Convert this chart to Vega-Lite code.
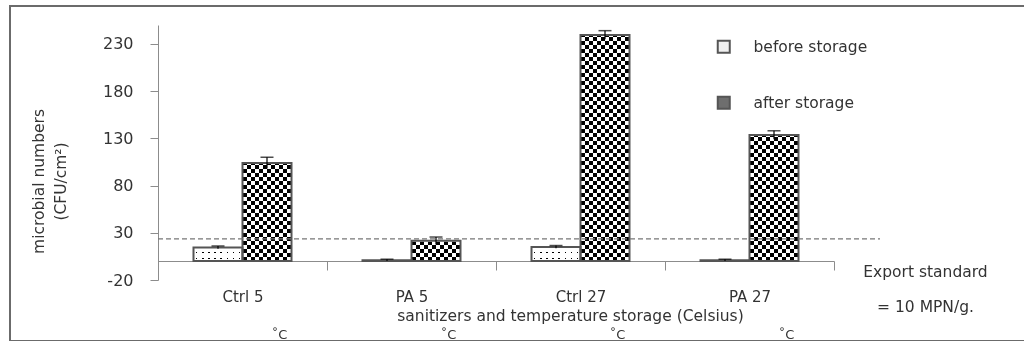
{
  "$schema": "https://vega.github.io/schema/vega-lite/v6.json",
  "width": 1020,
  "height": 335,
  "autosize": {"type": "none"},
  "padding": {"left": 10, "top": 6, "right": 0, "bottom": 0},
  "background": "white",
  "config": {
    "font": "DejaVu Sans",
    "view": {"stroke": "#6b6b6b", "strokeWidth": 2},
    "axis": {"grid": false}
  },
  "data": {
    "values": [
      {"cat": "Ctrl 5", "storage": "before", "value": 14.5, "lo": 13, "hi": 16},
      {"cat": "Ctrl 5", "storage": "after", "value": 104, "lo": 98, "hi": 110},
      {"cat": "PA 5", "storage": "before", "value": 1, "lo": 0, "hi": 2},
      {"cat": "PA 5", "storage": "after", "value": 21.5, "lo": 17.5, "hi": 25.5},
      {"cat": "Ctrl 27", "storage": "before", "value": 15, "lo": 13.5, "hi": 16.5},
      {"cat": "Ctrl 27", "storage": "after", "value": 239.5, "lo": 235, "hi": 244},
      {"cat": "PA 27", "storage": "before", "value": 1, "lo": 0, "hi": 2},
      {"cat": "PA 27", "storage": "after", "value": 133.5, "lo": 129, "hi": 138}
    ]
  },
  "resolve": {"scale": {"x": "independent"}},
  "layer": [
    {
      "encoding": {
        "x": {
          "field": "cat",
          "type": "nominal",
          "sort": ["Ctrl 5", "PA 5", "Ctrl 27", "PA 27"],
          "scale": {"domain": ["Ctrl 5", "PA 5", "Ctrl 27", "PA 27"], "range": [148, 824], "paddingInner": 0, "paddingOuter": 0},
          "axis": {
            "title": "sanitizers and temperature storage (Celsius)",
            "offset": -80,
            "tickBand": "extent",
            "tickSize": 9,
            "domainColor": "#8c8c8c",
            "tickColor": "#8c8c8c",
            "labelAngle": 0,
            "labelPadding": 19,
            "labelFontSize": 15,
            "labelColor": "#333",
            "titleFontSize": 15.5,
            "titleFontWeight": "normal",
            "titleColor": "#333",
            "titleX": 560,
            "titleY": 54,
            "titleBaseline": "middle",
            "titleAlign": "center"
          }
        }
      },
      "layer": [
        {
          "transform": [{"filter": "datum.storage == 'after'"}],
          "mark": {"type": "bar", "fill": {"gradient": "linear", "x1": 0, "y1": 0, "x2": 0, "y2": 1, "stops": [
            {"offset": 0, "color": "#000"},
            {"offset": 0.01695, "color": "#000"}, {"offset": 0.01695, "color": "#fff"},
            {"offset": 0.0339, "color": "#fff"}, {"offset": 0.0339, "color": "#000"},
            {"offset": 0.05085, "color": "#000"}, {"offset": 0.05085, "color": "#fff"},
            {"offset": 0.0678, "color": "#fff"}, {"offset": 0.0678, "color": "#000"},
            {"offset": 0.08475, "color": "#000"}, {"offset": 0.08475, "color": "#fff"},
            {"offset": 0.10169, "color": "#fff"}, {"offset": 0.10169, "color": "#000"},
            {"offset": 0.11864, "color": "#000"}, {"offset": 0.11864, "color": "#fff"},
            {"offset": 0.13559, "color": "#fff"}, {"offset": 0.13559, "color": "#000"},
            {"offset": 0.15254, "color": "#000"}, {"offset": 0.15254, "color": "#fff"},
            {"offset": 0.16949, "color": "#fff"}, {"offset": 0.16949, "color": "#000"},
            {"offset": 0.18644, "color": "#000"}, {"offset": 0.18644, "color": "#fff"},
            {"offset": 0.20339, "color": "#fff"}, {"offset": 0.20339, "color": "#000"},
            {"offset": 0.22034, "color": "#000"}, {"offset": 0.22034, "color": "#fff"},
            {"offset": 0.23729, "color": "#fff"}, {"offset": 0.23729, "color": "#000"},
            {"offset": 0.25424, "color": "#000"}, {"offset": 0.25424, "color": "#fff"},
            {"offset": 0.27119, "color": "#fff"}, {"offset": 0.27119, "color": "#000"},
            {"offset": 0.28814, "color": "#000"}, {"offset": 0.28814, "color": "#fff"},
            {"offset": 0.30508, "color": "#fff"}, {"offset": 0.30508, "color": "#000"},
            {"offset": 0.32203, "color": "#000"}, {"offset": 0.32203, "color": "#fff"},
            {"offset": 0.33898, "color": "#fff"}, {"offset": 0.33898, "color": "#000"},
            {"offset": 0.35593, "color": "#000"}, {"offset": 0.35593, "color": "#fff"},
            {"offset": 0.37288, "color": "#fff"}, {"offset": 0.37288, "color": "#000"},
            {"offset": 0.38983, "color": "#000"}, {"offset": 0.38983, "color": "#fff"},
            {"offset": 0.40678, "color": "#fff"}, {"offset": 0.40678, "color": "#000"},
            {"offset": 0.42373, "color": "#000"}, {"offset": 0.42373, "color": "#fff"},
            {"offset": 0.44068, "color": "#fff"}, {"offset": 0.44068, "color": "#000"},
            {"offset": 0.45763, "color": "#000"}, {"offset": 0.45763, "color": "#fff"},
            {"offset": 0.47458, "color": "#fff"}, {"offset": 0.47458, "color": "#000"},
            {"offset": 0.49153, "color": "#000"}, {"offset": 0.49153, "color": "#fff"},
            {"offset": 0.50847, "color": "#fff"}, {"offset": 0.50847, "color": "#000"},
            {"offset": 0.52542, "color": "#000"}, {"offset": 0.52542, "color": "#fff"},
            {"offset": 0.54237, "color": "#fff"}, {"offset": 0.54237, "color": "#000"},
            {"offset": 0.55932, "color": "#000"}, {"offset": 0.55932, "color": "#fff"},
            {"offset": 0.57627, "color": "#fff"}, {"offset": 0.57627, "color": "#000"},
            {"offset": 0.59322, "color": "#000"}, {"offset": 0.59322, "color": "#fff"},
            {"offset": 0.61017, "color": "#fff"}, {"offset": 0.61017, "color": "#000"},
            {"offset": 0.62712, "color": "#000"}, {"offset": 0.62712, "color": "#fff"},
            {"offset": 0.64407, "color": "#fff"}, {"offset": 0.64407, "color": "#000"},
            {"offset": 0.66102, "color": "#000"}, {"offset": 0.66102, "color": "#fff"},
            {"offset": 0.67797, "color": "#fff"}, {"offset": 0.67797, "color": "#000"},
            {"offset": 0.69492, "color": "#000"}, {"offset": 0.69492, "color": "#fff"},
            {"offset": 0.71186, "color": "#fff"}, {"offset": 0.71186, "color": "#000"},
            {"offset": 0.72881, "color": "#000"}, {"offset": 0.72881, "color": "#fff"},
            {"offset": 0.74576, "color": "#fff"}, {"offset": 0.74576, "color": "#000"},
            {"offset": 0.76271, "color": "#000"}, {"offset": 0.76271, "color": "#fff"},
            {"offset": 0.77966, "color": "#fff"}, {"offset": 0.77966, "color": "#000"},
            {"offset": 0.79661, "color": "#000"}, {"offset": 0.79661, "color": "#fff"},
            {"offset": 0.81356, "color": "#fff"}, {"offset": 0.81356, "color": "#000"},
            {"offset": 0.83051, "color": "#000"}, {"offset": 0.83051, "color": "#fff"},
            {"offset": 0.84746, "color": "#fff"}, {"offset": 0.84746, "color": "#000"},
            {"offset": 0.86441, "color": "#000"}, {"offset": 0.86441, "color": "#fff"},
            {"offset": 0.88136, "color": "#fff"}, {"offset": 0.88136, "color": "#000"},
            {"offset": 0.89831, "color": "#000"}, {"offset": 0.89831, "color": "#fff"},
            {"offset": 0.91525, "color": "#fff"}, {"offset": 0.91525, "color": "#000"},
            {"offset": 0.9322, "color": "#000"}, {"offset": 0.9322, "color": "#fff"},
            {"offset": 0.94915, "color": "#fff"}, {"offset": 0.94915, "color": "#000"},
            {"offset": 0.9661, "color": "#000"}, {"offset": 0.9661, "color": "#fff"},
            {"offset": 0.98305, "color": "#fff"}, {"offset": 0.98305, "color": "#000"},
            {"offset": 1, "color": "#000"}
          ]}},
          "encoding": {
            "xOffset": {"field": "storage", "type": "nominal", "scale": {"domain": ["before", "after"], "paddingInner": 0, "paddingOuter": 0.7245}},
            "y": {
              "datum": 0,
              "type": "quantitative",
              "scale": {"domain": [-20, 250], "range": [274, 19], "nice": false, "zero": false},
              "axis": {
                "title": ["microbial numbers", "(CFU/cm²)"],
                "values": [-20, 30, 80, 130, 180, 230],
                "labelExpr": "'' + datum.value",
                "offset": -148,
                "domainColor": "#8c8c8c",
                "tickColor": "#8c8c8c",
                "tickSize": 8,
                "labelPadding": 17,
                "labelFontSize": 16,
                "labelColor": "#333",
                "titleFontSize": 15.5,
                "titleFontWeight": "normal",
                "titleColor": "#333",
                "titleX": -112,
                "titleY": 175,
                "titleAngle": -90,
                "titleBaseline": "bottom",
                "titleAlign": "center",
                "titleLineHeight": 22
              }
            },
            "y2": {"datum": 250}
          }
        },
        {
          "transform": [{"filter": "datum.storage == 'after'"}],
          "mark": {"type": "bar", "blend": "difference", "fill": {"gradient": "linear", "x1": 0, "y1": 0, "x2": 1, "y2": 0, "stops": [
            {"offset": 0, "color": "#000"}, {"offset": 0.08333, "color": "#000"},
            {"offset": 0.08333, "color": "#fff"}, {"offset": 0.16667, "color": "#fff"},
            {"offset": 0.16667, "color": "#000"}, {"offset": 0.25, "color": "#000"},
            {"offset": 0.25, "color": "#fff"}, {"offset": 0.33333, "color": "#fff"},
            {"offset": 0.33333, "color": "#000"}, {"offset": 0.41667, "color": "#000"},
            {"offset": 0.41667, "color": "#fff"}, {"offset": 0.5, "color": "#fff"},
            {"offset": 0.5, "color": "#000"}, {"offset": 0.58333, "color": "#000"},
            {"offset": 0.58333, "color": "#fff"}, {"offset": 0.66667, "color": "#fff"},
            {"offset": 0.66667, "color": "#000"}, {"offset": 0.75, "color": "#000"},
            {"offset": 0.75, "color": "#fff"}, {"offset": 0.83333, "color": "#fff"},
            {"offset": 0.83333, "color": "#000"}, {"offset": 0.91667, "color": "#000"},
            {"offset": 0.91667, "color": "#fff"}, {"offset": 1, "color": "#fff"}
          ]}},
          "encoding": {
            "xOffset": {"field": "storage", "type": "nominal", "scale": {"domain": ["before", "after"], "paddingInner": 0, "paddingOuter": 0.7245}},
            "y": {"field": "value", "type": "quantitative"}
          }
        },
        {
          "transform": [{"filter": "datum.storage == 'after'"}],
          "mark": {"type": "bar", "fill": "white", "stroke": "white", "strokeWidth": 2},
          "encoding": {
            "xOffset": {"field": "storage", "type": "nominal", "scale": {"domain": ["before", "after"], "paddingInner": 0, "paddingOuter": 0.7245}},
            "y": {"field": "value", "type": "quantitative"},
            "y2": {"datum": 250}
          }
        },
        {
          "transform": [{"filter": "datum.storage == 'before'"}],
          "mark": {"type": "bar", "fill": {"gradient": "linear", "x1": 0, "y1": 0, "x2": 1, "y2": 0, "stops": [
            {"offset": 0, "color": "#fff"}, {"offset": 0.05, "color": "#fff"}, {"offset": 0.05, "color": "#000"}, {"offset": 0.08125, "color": "#000"}, {"offset": 0.08125, "color": "#fff"},
            {"offset": 0.175, "color": "#fff"}, {"offset": 0.175, "color": "#000"}, {"offset": 0.20625, "color": "#000"}, {"offset": 0.20625, "color": "#fff"},
            {"offset": 0.3, "color": "#fff"}, {"offset": 0.3, "color": "#000"}, {"offset": 0.33125, "color": "#000"}, {"offset": 0.33125, "color": "#fff"},
            {"offset": 0.425, "color": "#fff"}, {"offset": 0.425, "color": "#000"}, {"offset": 0.45625, "color": "#000"}, {"offset": 0.45625, "color": "#fff"},
            {"offset": 0.55, "color": "#fff"}, {"offset": 0.55, "color": "#000"}, {"offset": 0.58125, "color": "#000"}, {"offset": 0.58125, "color": "#fff"},
            {"offset": 0.675, "color": "#fff"}, {"offset": 0.675, "color": "#000"}, {"offset": 0.70625, "color": "#000"}, {"offset": 0.70625, "color": "#fff"},
            {"offset": 0.8, "color": "#fff"}, {"offset": 0.8, "color": "#000"}, {"offset": 0.83125, "color": "#000"}, {"offset": 0.83125, "color": "#fff"},
            {"offset": 0.925, "color": "#fff"}, {"offset": 0.925, "color": "#000"}, {"offset": 0.95625, "color": "#000"}, {"offset": 0.95625, "color": "#fff"},
            {"offset": 1, "color": "#fff"}
          ]}},
          "encoding": {
            "xOffset": {"field": "storage", "type": "nominal", "scale": {"domain": ["before", "after"], "paddingInner": 0, "paddingOuter": 0.7245}},
            "y": {"field": "value", "type": "quantitative"}
          }
        },
        {
          "transform": [{"filter": "datum.storage == 'before'"}],
          "mark": {"type": "bar", "blend": "lighten", "fill": {"gradient": "linear", "x1": 0, "y1": 0, "x2": 0, "y2": 1, "stops": [
            {"offset": 0, "color": "#fff"}, {"offset": 0.13333, "color": "#fff"}, {"offset": 0.13333, "color": "#000"}, {"offset": 0.21667, "color": "#000"}, {"offset": 0.21667, "color": "#fff"},
            {"offset": 0.46667, "color": "#fff"}, {"offset": 0.46667, "color": "#000"}, {"offset": 0.55, "color": "#000"}, {"offset": 0.55, "color": "#fff"},
            {"offset": 0.8, "color": "#fff"}, {"offset": 0.8, "color": "#000"}, {"offset": 0.88333, "color": "#000"}, {"offset": 0.88333, "color": "#fff"},
            {"offset": 1, "color": "#fff"}
          ]}},
          "encoding": {
            "xOffset": {"field": "storage", "type": "nominal", "scale": {"domain": ["before", "after"], "paddingInner": 0, "paddingOuter": 0.7245}},
            "y": {"datum": 0, "type": "quantitative"},
            "y2": {"datum": 19.06}
          }
        },
        {
          "mark": {"type": "bar", "fillOpacity": 0, "stroke": "#555", "strokeWidth": 2},
          "encoding": {
            "xOffset": {"field": "storage", "type": "nominal", "scale": {"domain": ["before", "after"], "paddingInner": 0, "paddingOuter": 0.7245}},
            "y": {"field": "value", "type": "quantitative"},
            "fill": {
              "field": "storage",
              "type": "nominal",
              "scale": {"domain": ["before", "after"], "range": ["#f0f0f0", "#6e6e6e"]},
              "legend": {
                "title": null,
                "orient": "none",
                "legendX": 706,
                "legendY": 33,
                "direction": "vertical",
                "symbolType": "square",
                "symbolSize": 144,
                "symbolStrokeWidth": 2,
                "symbolStrokeColor": "#555",
                "labelFontSize": 15.5,
                "labelColor": "#333",
                "labelOffset": 22,
                "rowPadding": 35,
                "padding": 0,
                "labelExpr": "datum.value == 'before' ? 'before storage' : 'after storage'",
                "encode": {"symbols": {"update": {"fillOpacity": {"value": 1}}}}
              }
            }
          }
        },
        {
          "mark": {"type": "rule", "color": "#000", "strokeWidth": 1.2},
          "encoding": {
            "xOffset": {"field": "storage", "type": "nominal", "scale": {"domain": ["before", "after"], "paddingInner": 0, "paddingOuter": 0.7245}},
            "y": {"field": "lo", "type": "quantitative"},
            "y2": {"field": "hi"}
          }
        },
        {
          "mark": {"type": "tick", "orient": "horizontal", "color": "#000", "size": 13, "thickness": 1.5},
          "encoding": {
            "xOffset": {"field": "storage", "type": "nominal", "scale": {"domain": ["before", "after"], "paddingInner": 0, "paddingOuter": 0.7245}},
            "y": {"field": "hi", "type": "quantitative"}
          }
        },
        {
          "transform": [{"filter": "datum.storage == 'after'"}],
          "mark": {"type": "text", "text": "˚C", "fontSize": 13, "color": "#333", "dx": 37, "baseline": "middle", "align": "center"},
          "encoding": {
            "y": {"datum": -78.5, "type": "quantitative"}
          }
        },
        {
          "transform": [{"filter": "datum.cat == 'PA 27' && datum.storage == 'after'"}],
          "mark": {"type": "text", "text": ["Export standard", "= 10 MPN/g."], "lineHeight": 35, "fontSize": 15.5, "color": "#333", "dx": 176, "align": "center", "baseline": "middle"},
          "encoding": {
            "y": {"datum": -11.5, "type": "quantitative"}
          }
        }
      ]
    },
    {
      "transform": [{"filter": "datum.cat == 'Ctrl 5' && datum.storage == 'before'"}],
      "mark": {"type": "rule", "color": "#777", "strokeDash": [5, 3], "strokeWidth": 1.3},
      "encoding": {
        "x": {"datum": 0, "type": "quantitative", "scale": {"domain": [0, 1], "range": [148, 870]}, "axis": null},
        "x2": {"datum": 1},
        "y": {"datum": 23.5, "type": "quantitative"}
      }
    }
  ]
}
